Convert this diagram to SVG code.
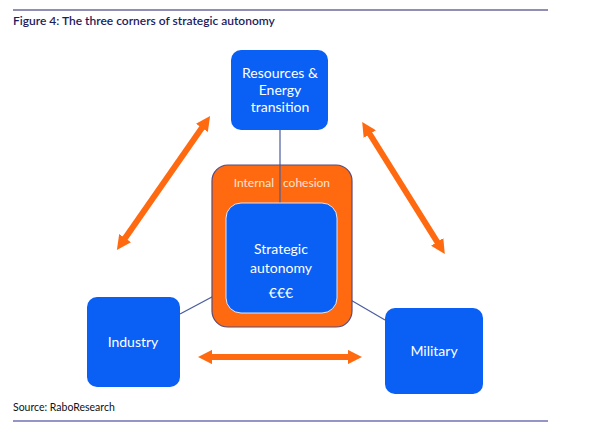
<svg xmlns="http://www.w3.org/2000/svg" width="595" height="436" viewBox="0 0 595 436">
<style>
.box{fill:#0a5ff5;}
.lbl{font-family:Lato,"Open Sans","Liberation Sans",sans-serif;fill:#ffffff;text-anchor:middle;font-size:14px;}
.link{stroke:#4a5d9e;stroke-width:1.2;fill:none;}
.arr{stroke:#ff6a10;stroke-width:6;fill:none;marker-start:url(#ah);marker-end:url(#ah);}
</style>
<defs>
<marker id="ah" viewBox="0 0 10 10" refX="5" refY="5" markerWidth="2.4" markerHeight="2.4" orient="auto-start-reverse" markerUnits="strokeWidth">
<path d="M0,0 L10,5 L0,10 z" fill="#ff6a10"/>
</marker>
</defs>
<rect width="595" height="436" fill="#ffffff"/>
<line x1="13" y1="10" x2="548" y2="10" stroke="#6a6a98" stroke-width="1.5"/>
<text x="13" y="25" font-family="Lato,Open Sans,Liberation Sans,sans-serif" font-size="12" font-weight="600" fill="#1c1c60">Figure 4: The three corners of strategic autonomy</text>

<g id="connectors">
<line class="link" x1="280" y1="130" x2="280" y2="203"/>
<line class="link" x1="225" y1="290" x2="180" y2="314"/>
<line class="link" x1="337" y1="292" x2="385" y2="320"/>
<line class="arr" x1="206" y1="122" x2="121" y2="244"/>
<line class="arr" x1="366" y1="128" x2="441" y2="248"/>
<line class="arr" x1="205" y1="357" x2="355" y2="357"/>
</g>

<g id="cohesion">
<rect x="212" y="165" width="140" height="162" rx="16" fill="#ff6a10" stroke="#5a4a78" stroke-width="1.2"/>
<text x="274" y="187" font-family="Lato,Open Sans,Liberation Sans,sans-serif" font-size="12" fill="#fde4d2" text-anchor="end">Internal</text>
<text x="283" y="187" font-family="Lato,Open Sans,Liberation Sans,sans-serif" font-size="12" fill="#fde4d2" text-anchor="start">cohesion</text>
</g>
<line class="link" x1="280" y1="165" x2="280" y2="203"/>

<g id="strategic">
<rect class="box" x="226" y="203" width="111" height="110" rx="15" stroke="#dfe6f5" stroke-width="1"/>
<text class="lbl" x="281" y="254" font-size="17">Strategic</text>
<text class="lbl" x="281" y="273" font-size="17">autonomy</text>
<text class="lbl" x="281" y="298" font-size="18">€€€</text>
</g>

<g id="resources">
<rect class="box" x="231" y="50" width="97" height="80" rx="10"/>
<text class="lbl" x="280" y="78">Resources &amp;</text>
<text class="lbl" x="280" y="95">Energy</text>
<text class="lbl" x="280" y="112">transition</text>
</g>

<g id="industry">
<rect class="box" x="87" y="297" width="93" height="90" rx="10"/>
<text class="lbl" x="133" y="347" font-size="14.5">Industry</text>
</g>

<g id="military">
<rect class="box" x="385" y="308" width="98" height="86" rx="10"/>
<text class="lbl" x="434" y="356" font-size="14.5">Military</text>
</g>

<text x="13" y="411" font-family="Lato,Open Sans,Liberation Sans,sans-serif" font-size="10.5" fill="#111111">Source: RaboResearch</text>
<line x1="13" y1="421" x2="548" y2="421" stroke="#2a2a8c" stroke-width="1.2"/>
</svg>
